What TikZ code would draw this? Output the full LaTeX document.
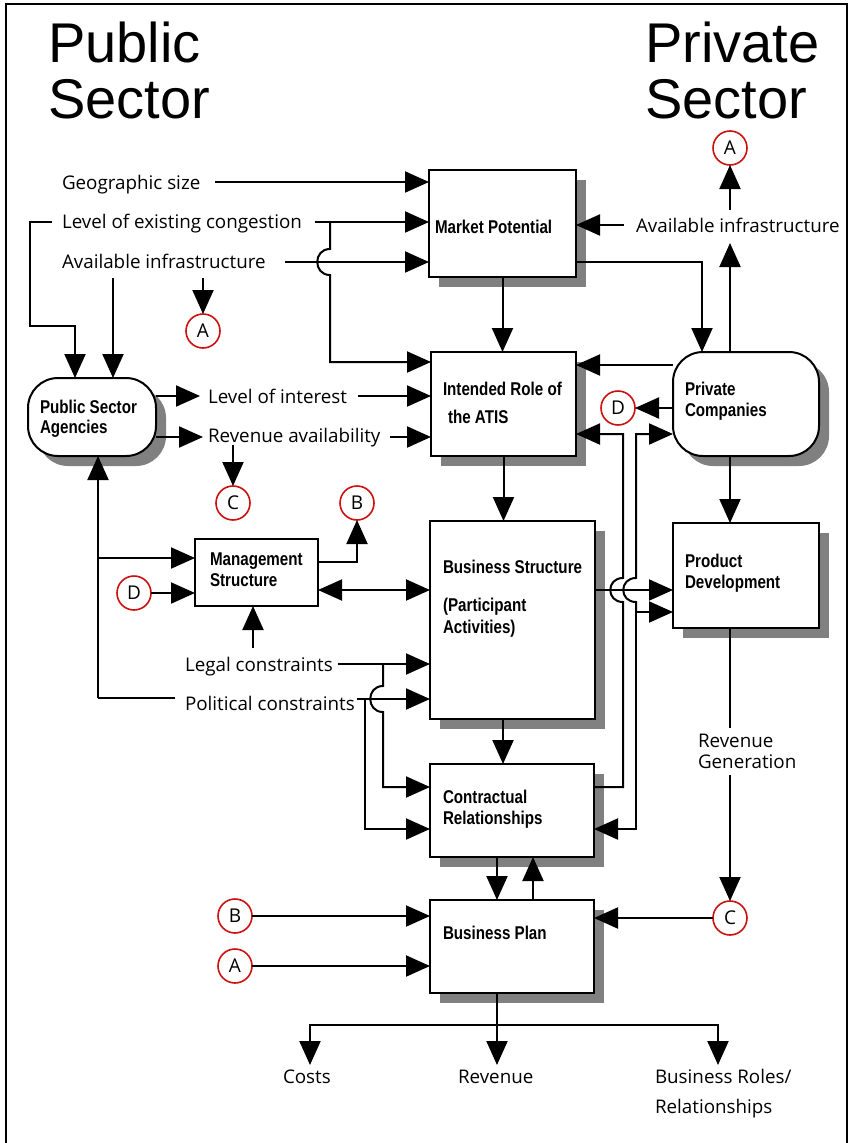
\documentclass[tikz,border=0pt]{standalone}
\usepackage{fontspec}
\setmainfont{Open Sans}
\newfontfamily\boxfont{Liberation Sans}[FakeStretch=0.82]
\newfontfamily\headfont{Liberation Sans}
\usetikzlibrary{arrows.meta,shadows,calc}
\definecolor{shadowgray}{HTML}{808080}
\definecolor{tagred}{HTML}{CC1111}
\begin{document}
\begin{tikzpicture}[x=1pt,y=-1pt,
  every node/.style={inner sep=0pt, outer sep=0pt},
  lab/.style={anchor=base west, font=\fontsize{18.8}{22}\selectfont},
  boxlab/.style={anchor=base west, font=\boxfont\bfseries\fontsize{18.5}{22}\selectfont},
  head/.style={anchor=base west, font=\headfont\fontsize{56}{56}\selectfont},
  conn/.style={line width=2pt},
  arr/.style={conn, -{Triangle[length=24pt,width=21pt]}},
  darr/.style={conn, {Triangle[length=24pt,width=21pt]}-{Triangle[length=24pt,width=21pt]}},
  pbox/.style={draw, line width=2pt, fill=white, rectangle},
  sbox/.style={pbox, drop shadow={shadow xshift=10pt, shadow yshift=-10pt, shadow scale=1, opacity=1, fill=shadowgray}},
  rbox/.style={sbox, rounded corners=30pt},
  tag/.style={circle, draw=tagred, line width=1.6pt, minimum size=34pt, font=\fontsize{19}{19}\selectfont},
  frame/.style={line width=1.5pt}
]
\useasboundingbox (0,0) rectangle (849,1143);
\draw[frame] (6,1143) -- (6,4) -- (847,4) -- (847,1143);

% headings
\node[head] (hpub1) at (48,62) {Public};
\node[head] (hpub2) at (48,118) {Sector};
\node[head] (hpri1) at (645,62) {Private};
\node[head] (hpri2) at (645,118) {Sector};

% boxes
\node[sbox, minimum width=147pt, minimum height=107pt] (mp) at (502.5,223.5) {};
\node[sbox, minimum width=145pt, minimum height=104pt] (ir) at (503.5,404) {};
\node[rbox, minimum width=146pt, minimum height=104pt] (pc) at (746,404) {};
\node[rbox, minimum width=128pt, minimum height=78pt] (psa) at (92,417) {};
\node[pbox, minimum width=123pt, minimum height=67pt] (ms) at (256.5,572.5) {};
\node[sbox, minimum width=165pt, minimum height=198pt] (bs) at (512.5,620) {};
\node[sbox, minimum width=146pt, minimum height=105pt] (pd) at (746,575.5) {};
\node[sbox, minimum width=164pt, minimum height=93pt] (cr) at (512,810.5) {};
\node[sbox, minimum width=164pt, minimum height=93pt] (bp) at (512,946.5) {};

% box texts
\node[boxlab] (mpt) at (435,233) {Market Potential};
\node[boxlab] (irt1) at (443,395) {Intended Role of};
\node[boxlab] (irt2) at (448,423) {the ATIS};
\node[boxlab] (pct1) at (685,395) {Private};
\node[boxlab] (pct2) at (685,416) {Companies};
\node[boxlab] (psat1) at (40,413) {Public Sector};
\node[boxlab] (psat2) at (40,433) {Agencies};
\node[boxlab] (mst1) at (210,565) {Management};
\node[boxlab] (mst2) at (210,586) {Structure};
\node[boxlab] (bst1) at (443,573) {Business Structure};
\node[boxlab] (bst2) at (443,611) {(Participant};
\node[boxlab] (bst3) at (443,633) {Activities)};
\node[boxlab] (pdt1) at (685,567) {Product};
\node[boxlab] (pdt2) at (685,588) {Development};
\node[boxlab] (crt1) at (443,803) {Contractual};
\node[boxlab] (crt2) at (443,824) {Relationships};
\node[boxlab] (bpt) at (443,939) {Business Plan};

% plain labels
\node[lab] (geo) at (62,189) {Geographic size};
\node[lab] (cong) at (62,228) {Level of existing congestion};
\node[lab] (infl) at (62,268) {Available infrastructure};
\node[lab] (infr) at (636,232) {Available infrastructure};
\node[lab] (loi) at (208,403) {Level of interest};
\node[lab] (rev) at (208,442) {Revenue availability};
\node[lab] (legal) at (185,671) {Legal constraints};
\node[lab] (pol) at (185,710) {Political constraints};
\node[lab] (rg1t) at (698,747) {Revenue};
\node[lab] (rg2t) at (698,768) {Generation};
\node[lab] (costs) at (283,1083) {Costs};
\node[lab] (revenue) at (458,1083) {Revenue};
\node[lab] (roles) at (655,1083) {Business Roles/};
\node[lab] (rels) at (655,1113) {Relationships};

% cross-reference tags
\node[tag] (tA1) at (730,148) {A};
\node[tag] (tA2) at (203,331) {A};
\node[tag] (tC1) at (233,503) {C};
\node[tag] (tB1) at (357,503) {B};
\node[tag] (tD1) at (618,408) {D};
\node[tag] (tD2) at (134,593) {D};
\node[tag] (tC2) at (730,918) {C};
\node[tag] (tB2) at (235,916) {B};
\node[tag] (tA3) at (235,966) {A};

% inputs to Market Potential
\coordinate (geoE) at (215,182);
\draw[arr] (geoE) -- (geoE -| mp.west);
\coordinate (congE) at (315,222);
\draw[arr] (congE) -- (congE -| mp.west);
\coordinate (ilE) at (285,262);
\draw[arr] (ilE) -- (ilE -| mp.west);
\coordinate (infE) at (624,225);
\draw[arr] (infE) -- (infE -| mp.east);

% congestion branch down to the ATIS role (hops over infrastructure line)
\coordinate (congJ) at (330,222);
\coordinate (congB) at (330,362);
\draw[arr] (congJ) -- (330,249) .. controls (313,249) and (313,275) .. (330,275) -- (congB) -- (congB -| ir.west);

% congestion and infrastructure feeding public agencies
\coordinate (congW) at (52,222);
\coordinate (congL) at (75,326);
\draw[arr] (congW) -- (30,222) -- (30,326) -- (congL) -- (congL |- psa.north);
\coordinate (ilD) at (113,278);
\draw[arr] (ilD) -- (ilD |- psa.north);
\coordinate (ilA) at (203,278);
\draw[arr] (ilA) -- (tA2.north);

% Market Potential outputs
\draw[arr] (mp.south) -- (mp.south |- ir.north);
\coordinate (mpR) at (576,262);
\coordinate (pcK) at (702,262);
\draw[arr] (mpR) -- (pcK) -- (pcK |- pc.north);

% Private Companies links
\coordinate (infU) at (730,243);
\draw[arr] (pc.north -| infU) -- (infU);
\coordinate (infT) at (730,210);
\draw[arr] (infT) -- (tA1.south);
\coordinate (k365) at (673,365);
\draw[arr] (k365 -| pc.west) -- (k365 -| ir.east);
\draw[arr] (pc.west |- tD1) -- (tD1.east);
\coordinate (pcS) at (730,470);
\draw[arr] (pc.south -| pcS) -- (pcS |- pd.north);

% Contractual Relationships back to the ATIS role
\coordinate (v1b) at (623,787);
\coordinate (v1t) at (623,434);
\draw[arr] (v1b -| cr.east) -- (v1b) -- (623,602) .. controls (606,602) and (606,578) .. (623,578) -- (v1t) -- (v1t -| ir.east);

% shared feed into Private Companies, Product Development and Contractual Relationships
\coordinate (v2m) at (636,612);
\coordinate (v2t) at (636,434);
\coordinate (v2b) at (636,829);
\draw[arr] (v2m) -- (636,602) .. controls (619,602) and (619,578) .. (636,578) -- (v2t) -- (v2t -| pc.west);
\draw[arr] (v2m) -- (v2m -| pd.west);
\draw[arr] (v2m) -- (v2b) -- (v2b -| cr.east);

% Business Structure to Product Development
\coordinate (h590) at (595,590);
\draw[arr] (bs.east |- h590) -- (h590 -| pd.west);

% main vertical chain
\draw[arr] (ir.south) -- (ir.south |- bs.north);
\coordinate (xb) at (503,740);
\draw[arr] (xb |- bs.south) -- (xb |- cr.north);
\coordinate (xc1) at (497,880);
\draw[arr] (xc1 |- cr.south) -- (xc1 |- bp.north);
\coordinate (xc2) at (533,880);
\draw[arr] (xc2 |- bp.north) -- (xc2 |- cr.south);

% revenue generation
\coordinate (rg1) at (730,728);
\draw[conn] (pd.south -| rg1) -- (rg1);
\coordinate (rg2) at (730,775);
\draw[arr] (rg2) -- (tC2.north);
\draw[arr] (tC2.west) -- (tC2.west -| bp.east);
\draw[arr] (tB2.east) -- (tB2.east -| bp.west);
\draw[arr] (tA3.east) -- (tA3.east -| bp.west);

% Business Plan outputs
\coordinate (bt) at (497,1025);
\coordinate (bl) at (310,1025);
\coordinate (br) at (718,1025);
\coordinate (tipy) at (0,1065);
\draw[arr] (bt |- bp.south) -- (bt |- tipy);
\draw[arr] (bt) -- (bl) -- (bl |- tipy);
\draw[arr] (bt) -- (br) -- (br |- tipy);

% Public Sector Agencies outputs
\coordinate (loiT) at (200,396);
\draw[arr] (psa.east |- loiT) -- (loiT);
\coordinate (loiE) at (358,396);
\draw[arr] (loiE) -- (loiE -| ir.west);
\coordinate (revT) at (203,437);
\draw[arr] (psa.east |- revT) -- (revT);
\coordinate (revE) at (390,437);
\draw[arr] (revE) -- (revE -| ir.west);
\coordinate (revD) at (233,445);
\draw[arr] (revD) -- (tC1.north);

% left feedback line and Management Structure
\coordinate (lv) at (98,698);
\coordinate (lvm) at (98,558);
\coordinate (polW) at (175,698);
\draw[arr] (lv) -- (lv |- psa.south);
\draw[arr] (lvm) -- (lvm -| ms.west);
\draw[conn] (lv) -- (polW);
\draw[arr] (tD2.east) -- (tD2.east -| ms.west);
\coordinate (msB) at (357,562);
\draw[arr] (ms.east |- msB) -- (msB) -- (tB1.south);
\coordinate (m590) at (330,590);
\draw[darr] (ms.east |- m590) -- (m590 -| bs.west);

% legal and political constraints
\coordinate (lgU) at (253,648);
\draw[arr] (lgU) -- (lgU |- ms.south);
\coordinate (lgE) at (338,664);
\draw[arr] (lgE) -- (lgE -| bs.west);
\coordinate (lgJ) at (383,664);
\coordinate (lgB) at (383,787);
\draw[arr] (lgJ) -- (383,686) .. controls (366,686) and (366,712) .. (383,712) -- (lgB) -- (lgB -| cr.west);
\coordinate (plE) at (357,699);
\draw[arr] (plE) -- (plE -| bs.west);
\coordinate (plJ) at (365,699);
\coordinate (plB) at (365,829);
\draw[arr] (plJ) -- (plB) -- (plB -| cr.west);
\end{tikzpicture}
\end{document}
